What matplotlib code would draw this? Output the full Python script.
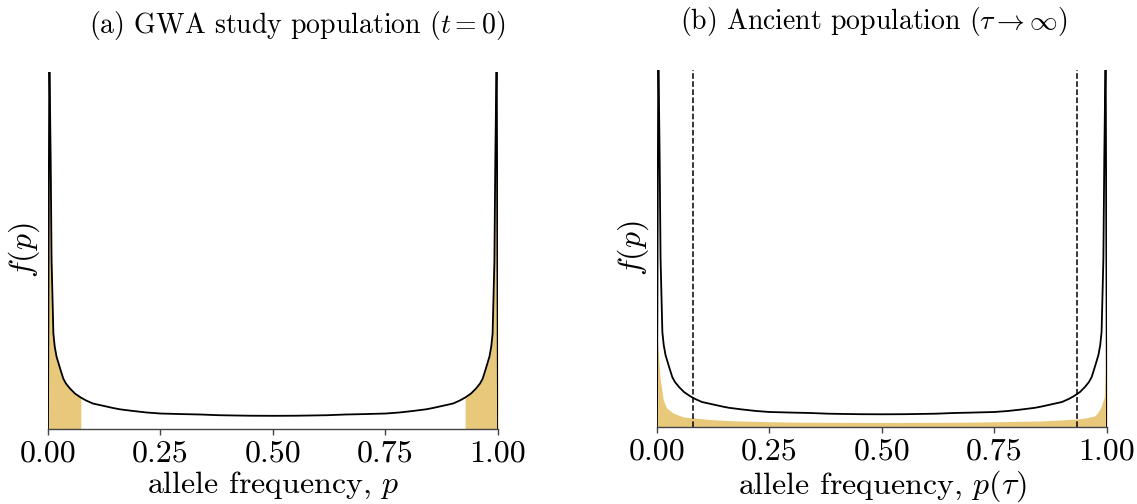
import matplotlib
matplotlib.use("Agg")
import matplotlib.pyplot as plt

plt.rcParams['font.family'] = 'serif'
plt.rcParams['font.serif'] = ['cmr10']
plt.rcParams['mathtext.fontset'] = 'cm'
plt.rcParams['axes.formatter.use_mathtext'] = True

# frequency spectrum at present (arbitrary units)
p = [0.0, 0.003, 0.006, 0.008, 0.012, 0.015, 0.019, 0.023, 0.027, 0.034, 0.04,
     0.049, 0.06, 0.073, 0.085, 0.10, 0.115, 0.13, 0.145, 0.16, 0.19, 0.22,
     0.25, 0.30, 0.34, 0.38, 0.42, 0.45, 0.5, 0.55, 0.58, 0.62, 0.66, 0.70,
     0.75, 0.78, 0.81, 0.84, 0.855, 0.87, 0.885, 0.90, 0.915, 0.927, 0.94,
     0.951, 0.96, 0.966, 0.973, 0.977, 0.981, 0.985, 0.988, 0.992, 0.994,
     0.997, 1.0]
f = [0, 380, 268, 168, 95, 82, 72, 66, 60, 50, 45,
     40, 35, 31, 28, 25, 23.5, 22, 20.5, 19.2, 17.5, 16,
     15, 14.4, 14, 13.3, 13, 12.8, 12.7, 12.8, 13, 13.3, 14, 14.4,
     15, 16, 17.5, 19.2, 20.5, 22, 23.5, 25, 28, 31, 35,
     40, 45, 50, 60, 66, 72, 82, 95, 168, 268,
     380, 0]

# spectrum of the ancient population (filled area in panel b)
p_anc = [0.0, 0.0067, 0.014, 0.0215, 0.036, 0.059, 0.081, 0.12, 0.163, 0.24,
         0.32, 0.5, 0.68, 0.76, 0.853, 0.935, 0.955, 0.972, 0.979, 0.9866,
         0.994, 1.0]
f_anc = [94, 50, 27, 19, 14, 10, 9, 7.4, 6.3, 5.4,
         4.8, 4.5, 4.8, 5.3, 6, 8, 9.3, 11, 14, 20,
         30, 94]

low_cut = 0.073
high_cut = 0.927
dash_low = 0.081
dash_high = 0.933

ticks = [0.0, 0.25, 0.5, 0.75, 1.0]
tick_labels = ['0.00', '0.25', '0.50', '0.75', '1.00']

gold = '#e8c97b'

fig = plt.figure(figsize=(11.37, 5.04), dpi=100)
ax1 = fig.add_axes([0.0422, 0.1498, 0.3958, 0.7073])
ax2 = fig.add_axes([0.5778, 0.1528, 0.3958, 0.7083])

for ax in (ax1, ax2):
    ax.set_xlim(0, 1)
    ax.set_ylim(0, 357)
    for s in ('top', 'right', 'left'):
        ax.spines[s].set_visible(False)
    ax.spines['bottom'].set_color('#444444')
    ax.spines['bottom'].set_linewidth(1.0)
    ax.set_yticks([])
    ax.set_xticks(ticks)
    ax.set_xticklabels(tick_labels)
    ax.tick_params(axis='x', labelsize=23, length=4, width=1.0,
                   color='#444444', pad=4)
    ax.set_ylabel('$f(p)$', fontsize=23, labelpad=4)

# panel (a): shade the rare-allele tails
lo_p = [x for x in p if x <= low_cut]
lo_f = [y for x, y in zip(p, f) if x <= low_cut]
hi_p = [x for x in p if x >= high_cut]
hi_f = [y for x, y in zip(p, f) if x >= high_cut]
ax1.fill_between(lo_p, lo_f, 0, color=gold, lw=0)
ax1.fill_between(hi_p, hi_f, 0, color=gold, lw=0)
ax1.plot(p, f, color='black', lw=1.3)
ax1.set_xlabel('allele frequency, $p$', fontsize=23, labelpad=2)
ax1.text(0.554, 1.085, '(a) GWA study population ($t = 0$)', fontsize=20,
         transform=ax1.transAxes, ha='center', va='bottom')

# panel (b)
ax2.fill_between(p_anc, f_anc, 0, color=gold, lw=0)
ax2.plot(p, f, color='black', lw=1.3)
ax2.axvline(dash_low, color='black', lw=1.1, ls='--')
ax2.axvline(dash_high, color='black', lw=1.1, ls='--')
ax2.set_xlabel(r'allele frequency, $p(\tau)$', fontsize=23, labelpad=2)
ax2.text(0.482, 1.09, r'(b) Ancient population ($\tau \to \infty$)', fontsize=20,
         transform=ax2.transAxes, ha='center', va='bottom')

fig.savefig('out.png', dpi=100)
